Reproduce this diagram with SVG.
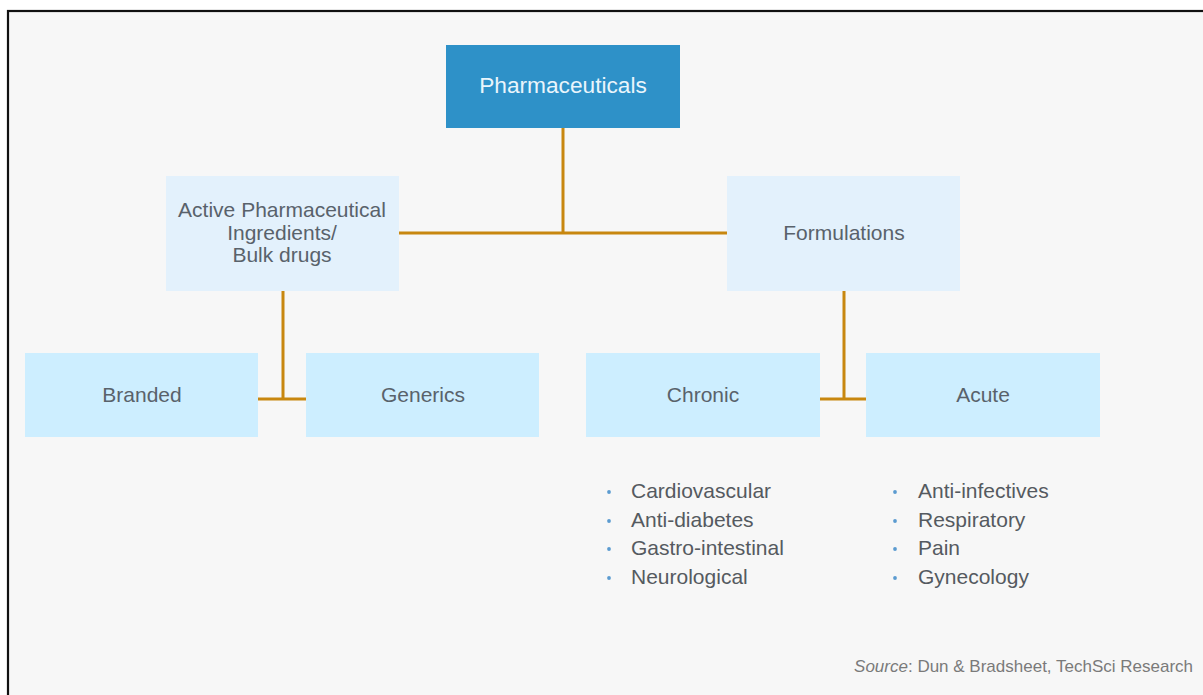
<svg xmlns="http://www.w3.org/2000/svg" width="1203" height="695" viewBox="0 0 1203 695">
<style>
text{font-family:"Liberation Sans",Arial,sans-serif;}
.lbl{font-size:21px;fill:#59626b;text-anchor:middle;}
.l2{fill:#e3f1fc;}
.l3{fill:#cdeeff;}
.con{stroke:#c8870f;stroke-width:3;fill:none;}
.item{font-size:21px;fill:#555a60;}
.dot{fill:#5b9bd0;}
</style>
<rect x="0" y="0" width="1203" height="695" fill="#ffffff"/>
<rect x="8" y="11" width="1200" height="690" fill="#f7f7f7" stroke="#111" stroke-width="2.2"/>
<g id="connectors">
<path class="con" d="M563 128 V233 M399 233 H727"/>
<path class="con" d="M283 291 V399 M258 399 H306"/>
<path class="con" d="M844 291 V399 M820 399 H866"/>
</g>
<g id="pharma">
<rect x="446" y="45" width="234" height="83" fill="#2e91c8"/>
<text x="563" y="93" font-size="22.7" fill="#e9f5fc" text-anchor="middle">Pharmaceuticals</text>
</g>
<g id="api">
<rect class="l2" x="166" y="176" width="233" height="115"/>
<text class="lbl" x="282" y="217">Active Pharmaceutical</text>
<text class="lbl" x="282" y="240">Ingredients/</text>
<text class="lbl" x="282" y="262">Bulk drugs</text>
</g>
<g id="formulations">
<rect class="l2" x="727" y="176" width="233" height="115"/>
<text class="lbl" x="844" y="240">Formulations</text>
</g>
<g id="branded">
<rect class="l3" x="25" y="353" width="233" height="84"/>
<text class="lbl" x="142" y="402">Branded</text>
</g>
<g id="generics">
<rect class="l3" x="306" y="353" width="233" height="84"/>
<text class="lbl" x="423" y="402">Generics</text>
</g>
<g id="chronic">
<rect class="l3" x="586" y="353" width="234" height="84"/>
<text class="lbl" x="703" y="402">Chronic</text>
</g>
<g id="acute">
<rect class="l3" x="866" y="353" width="234" height="84"/>
<text class="lbl" x="983" y="402">Acute</text>
</g>
<g id="chronic-list">
<circle class="dot" cx="609" cy="492" r="1.9"/>
<circle class="dot" cx="609" cy="521" r="1.9"/>
<circle class="dot" cx="609" cy="549" r="1.9"/>
<circle class="dot" cx="609" cy="578" r="1.9"/>
<text class="item" x="631" y="498">Cardiovascular</text>
<text class="item" x="631" y="527">Anti-diabetes</text>
<text class="item" x="631" y="555">Gastro-intestinal</text>
<text class="item" x="631" y="584">Neurological</text>
</g>
<g id="acute-list">
<circle class="dot" cx="895" cy="492" r="1.9"/>
<circle class="dot" cx="895" cy="521" r="1.9"/>
<circle class="dot" cx="895" cy="549" r="1.9"/>
<circle class="dot" cx="895" cy="578" r="1.9"/>
<text class="item" x="918" y="498">Anti-infectives</text>
<text class="item" x="918" y="527">Respiratory</text>
<text class="item" x="918" y="555">Pain</text>
<text class="item" x="918" y="584">Gynecology</text>
</g>
<text x="1193" y="672" font-size="17" fill="#7a7a7a" text-anchor="end"><tspan font-style="italic">Source</tspan>: Dun &amp; Bradsheet, TechSci Research</text>
</svg>
